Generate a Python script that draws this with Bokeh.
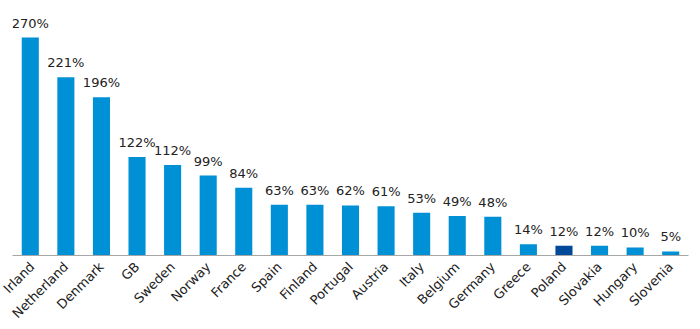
import math
from bokeh.plotting import figure
from bokeh.models import ColumnDataSource, Range1d
from bokeh.embed import file_html
from bokeh.resources import INLINE
from bokeh.core.properties import value

countries = ["Irland", "Netherland", "Denmark", "GB", "Sweden", "Norway", "France", "Spain",
             "Finland", "Portugal", "Austria", "Italy", "Belgium", "Germany", "Greece",
             "Poland", "Slovakia", "Hungary", "Slovenia"]
values = [270, 221, 196, 122, 112, 99, 84, 63, 63, 62, 61, 53, 49, 48, 14, 12, 12, 10, 5]
highlight = "Poland"

colors = ["#00489A" if c == highlight else "#0090D5" for c in countries]
labels = [f"{v}%" for v in values]

src = ColumnDataSource(dict(x=countries, top=values, color=colors, label=labels))

p = figure(x_range=countries, y_range=Range1d(0, 316), width=700, height=329,
           output_backend="svg", toolbar_location=None,
           min_border_left=12, min_border_right=12, min_border_top=0,
           min_border_bottom=73)
p.vbar(x="x", top="top", width=0.48, color="color", source=src, line_color=None)
p.text(x="x", y="top", text="label", source=src, text_align="center",
       text_baseline="bottom", y_offset=-7, text_font=value("DejaVu Sans"),
       text_font_size="13px", text_color="#222222")

p.yaxis.visible = False
p.grid.visible = False
p.outline_line_color = None
p.xaxis.axis_line_color = "#A6A6A6"
p.xaxis.major_tick_line_color = None
p.xaxis.minor_tick_line_color = None
p.xaxis.major_label_orientation = math.pi / 4
p.xaxis.major_label_text_font = "DejaVu Sans"
p.xaxis.major_label_text_font_size = "13px"
p.xaxis.major_label_text_color = "#222222"
p.xaxis.major_label_standoff = 3
p.x_range.range_padding = 0
p.background_fill_color = "white"
p.border_fill_color = "white"

open("out.html", "w").write(file_html(p, INLINE))
